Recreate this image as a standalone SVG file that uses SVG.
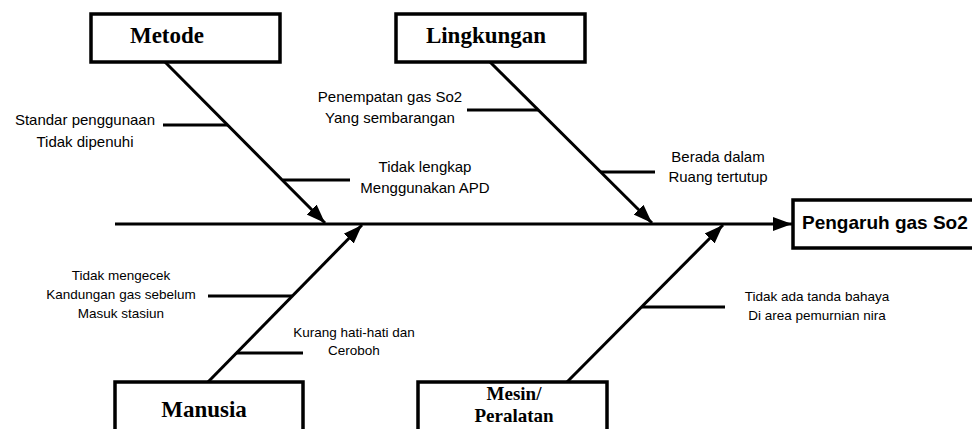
<svg xmlns="http://www.w3.org/2000/svg" width="972" height="429" viewBox="0 0 972 429">
<style>
.box{fill:#fff;stroke:#000;stroke-width:3.5}
.ln{stroke:#000;stroke-width:3;fill:none}
.ttl{font-family:"Liberation Serif","Times New Roman",serif;font-weight:bold;text-anchor:middle;fill:#000}
.lbl{font-family:"Liberation Sans",Arial,sans-serif;text-anchor:middle;fill:#000}
.eff{font-family:"Liberation Sans",Arial,sans-serif;font-weight:bold;font-size:19px;fill:#000}
</style>
<defs>
<marker id="ah" markerUnits="userSpaceOnUse" markerWidth="20" markerHeight="16" refX="19" refY="7" orient="auto" viewBox="0 0 20 14">
<path d="M0,0 L19,7 L0,14 Z" fill="#000"/>
</marker>
</defs>
<rect width="972" height="429" fill="#fff"/>
<g id="connectors">
<line class="ln" x1="115" y1="224" x2="792" y2="224" marker-end="url(#ah)"/>
<line class="ln" x1="165" y1="62" x2="325" y2="223" marker-end="url(#ah)"/>
<line class="ln" x1="490" y1="62" x2="652" y2="223" marker-end="url(#ah)"/>
<line class="ln" x1="208" y1="382" x2="362" y2="225" marker-end="url(#ah)"/>
<line class="ln" x1="567" y1="382" x2="723" y2="225" marker-end="url(#ah)"/>
<line class="ln" x1="163" y1="125" x2="228" y2="125"/>
<line class="ln" x1="283" y1="180" x2="350" y2="180"/>
<line class="ln" x1="467" y1="110" x2="538" y2="110"/>
<line class="ln" x1="601" y1="172" x2="655" y2="172"/>
<line class="ln" x1="208" y1="296" x2="292" y2="296"/>
<line class="ln" x1="236" y1="353" x2="303" y2="353"/>
<line class="ln" x1="642" y1="307" x2="725" y2="307"/>
</g>
<g id="metode">
<rect class="box" x="91" y="14" width="189" height="48"/>
<text class="ttl" x="167" y="43" font-size="23">Metode</text>
</g>
<g id="lingkungan">
<rect class="box" x="396" y="14" width="189" height="48"/>
<text class="ttl" x="486" y="43" font-size="23">Lingkungan</text>
</g>
<g id="manusia">
<rect class="box" x="115" y="382" width="188" height="60"/>
<text class="ttl" x="204" y="417" font-size="23">Manusia</text>
</g>
<g id="mesin">
<rect class="box" x="418" y="382" width="189" height="60"/>
<text class="ttl" x="514" y="400" font-size="19">Mesin/</text>
<text class="ttl" x="514" y="422" font-size="19">Peralatan</text>
</g>
<g id="effect">
<rect class="box" x="793" y="200" width="190" height="48"/>
<text class="eff" x="802" y="229">Pengaruh gas So2</text>
</g>
<g id="labels">
<text class="lbl" font-size="15" x="85" y="125">Standar penggunaan</text>
<text class="lbl" font-size="15" x="85" y="147">Tidak dipenuhi</text>
<text class="lbl" font-size="15" x="425" y="172">Tidak lengkap</text>
<text class="lbl" font-size="15" x="425" y="193">Menggunakan APD</text>
<text class="lbl" font-size="15" x="390" y="102">Penempatan gas So2</text>
<text class="lbl" font-size="15" x="390" y="123">Yang sembarangan</text>
<text class="lbl" font-size="15" x="718" y="162">Berada dalam</text>
<text class="lbl" font-size="15" x="718" y="182">Ruang tertutup</text>
<text class="lbl" font-size="13.5" x="121" y="280">Tidak mengecek</text>
<text class="lbl" font-size="13.5" x="121" y="299">Kandungan gas sebelum</text>
<text class="lbl" font-size="13.5" x="121" y="318">Masuk stasiun</text>
<text class="lbl" font-size="13.5" x="354" y="337">Kurang hati-hati dan</text>
<text class="lbl" font-size="13.5" x="354" y="355">Ceroboh</text>
<text class="lbl" font-size="13.5" x="817" y="301">Tidak ada tanda bahaya</text>
<text class="lbl" font-size="13.5" x="817" y="320">Di area pemurnian nira</text>
</g>
</svg>
